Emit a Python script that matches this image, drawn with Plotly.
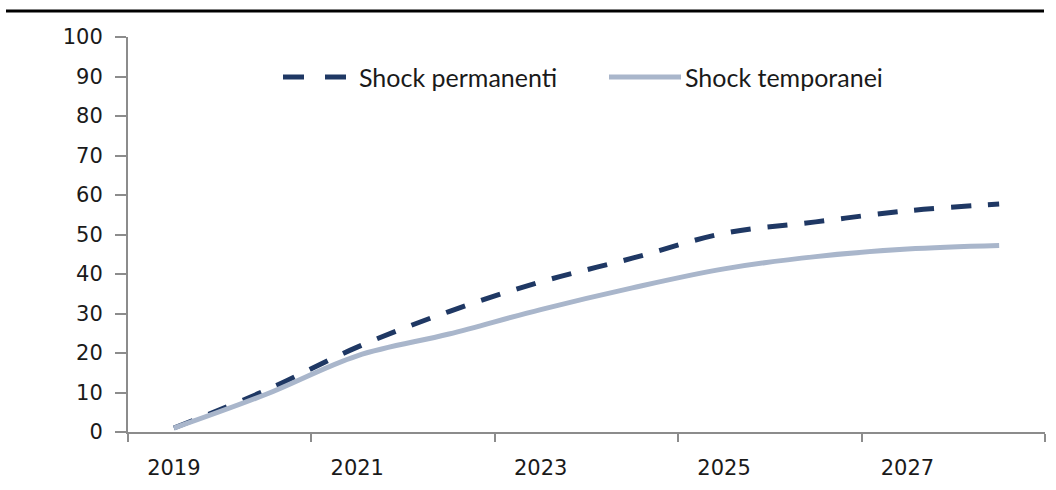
import plotly.graph_objects as go

years = ["2019", "2020", "2021", "2022", "2023", "2024", "2025", "2026", "2027", "2028"]
shock_permanenti = [1.0, 10.5, 21.5, 30.5, 38.0, 44.0, 50.3, 53.2, 56.0, 57.7]
shock_temporanei = [1.0, 9.5, 19.3, 24.8, 31.0, 36.5, 41.3, 44.4, 46.3, 47.2]
y_ticks = [0, 10, 20, 30, 40, 50, 60, 70, 80, 90, 100]
series_names = ["Shock permanenti", "Shock temporanei"]

NAVY = "#1F3864"
LIGHT = "#A9B6CB"
AXIS = "#8C8C8C"
TEXT = "#1a1a1a"

W, H = 1056, 490
ML, MR, MT, MB = 128, 11, 37, 58
PW, PH = W - ML - MR, H - MT - MB


def px_x(p):
    return (p - ML) / PW


def px_y(p):
    return (H - MB - p) / PH


fig = go.Figure()
fig.add_trace(go.Scatter(
    x=years, y=shock_permanenti, name=series_names[0], mode="lines",
    line=dict(color=NAVY, width=5, dash="20px,17px", shape="spline", smoothing=1),
))
fig.add_trace(go.Scatter(
    x=years, y=shock_temporanei, name=series_names[1], mode="lines",
    line=dict(color=LIGHT, width=5, shape="spline", smoothing=1),
))

shapes = [
    # top rule
    dict(type="line", xref="paper", yref="paper", x0=px_x(6), x1=px_x(1044),
         y0=px_y(11), y1=px_y(11), line=dict(color="black", width=3)),
    # legend symbols
    dict(type="line", xref="paper", yref="paper", x0=px_x(283), x1=px_x(304),
         y0=px_y(77), y1=px_y(77), line=dict(color=NAVY, width=5)),
    dict(type="line", xref="paper", yref="paper", x0=px_x(325), x1=px_x(346),
         y0=px_y(77), y1=px_y(77), line=dict(color=NAVY, width=5)),
    dict(type="line", xref="paper", yref="paper", x0=px_x(609), x1=px_x(681),
         y0=px_y(77), y1=px_y(77), line=dict(color=LIGHT, width=5)),
]
annotations = [
    dict(text=series_names[0], xref="paper", yref="paper", x=px_x(357), y=px_y(77),
         xanchor="left", yanchor="middle", showarrow=False,
         font=dict(family="Lato", size=25, color=TEXT)),
    dict(text=series_names[1], xref="paper", yref="paper", x=px_x(683), y=px_y(77),
         xanchor="left", yanchor="middle", showarrow=False,
         font=dict(family="Lato", size=25, color=TEXT)),
]

fig.update_layout(
    width=W, height=H,
    margin=dict(l=ML, r=MR, t=MT, b=MB),
    paper_bgcolor="white", plot_bgcolor="white",
    showlegend=False,
    xaxis=dict(type="category", range=[-0.5, 9.5], dtick=2, tickson="boundaries",
               ticks="outside", ticklen=8, tickwidth=2, tickcolor=AXIS, showline=True,
               linecolor=AXIS, linewidth=2, showgrid=False, zeroline=False,
               ticklabelstandoff=16,
               tickfont=dict(family="DejaVu Sans", size=21, color=TEXT)),
    yaxis=dict(range=[0, 100], tickvals=y_ticks, ticks="outside", ticklen=11,
               tickwidth=2, tickcolor=AXIS, showline=True, linecolor=AXIS,
               linewidth=2, showgrid=False, zeroline=False, ticklabelstandoff=8,
               tickfont=dict(family="DejaVu Sans", size=21, color=TEXT)),
    shapes=shapes,
    annotations=annotations,
)

fig.write_html("out.html", config={"displayModeBar": False},
               post_script="document.body.style.margin='0';document.body.style.overflow='hidden';")
